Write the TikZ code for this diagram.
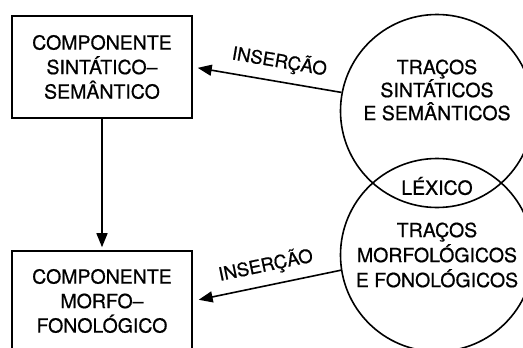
\documentclass[tikz,border=0pt]{standalone}
\usepackage{fontspec}
\setmainfont{TeX Gyre Heros}[BoldFont={TeX Gyre Heros}, BoldFeatures={FakeBold=0.7}]
\usetikzlibrary{arrows.meta}
\begin{document}
\begin{tikzpicture}[x=1pt,y=-1pt, line width=1.6pt,
  box/.style={draw, rectangle, minimum width=180pt, inner sep=0pt, align=center,
    font=\fontsize{19.5}{24.5}\selectfont\bfseries},
  lex/.style={draw, circle, minimum size=193pt, inner sep=0pt},
  ctext/.style={align=center, inner sep=0pt, font=\fontsize{19.5}{23}\selectfont\bfseries},
  arr/.style={-{Triangle[length=14pt,width=11pt]}},
  ins/.style={font=\fontsize{18.5}{20}\selectfont\bfseries, inner sep=0pt}]
\useasboundingbox (0,0) rectangle (523,348);
\clip (0,0) rectangle (523,348);
\node[box, minimum height=102pt] (topbox) at (102,67) {COMPONENTE\\SINTÁTICO–\\SEMÂNTICO};
\node[box, minimum height=100pt] (botbox) at (102,301) {COMPONENTE\\MORFO–\\FONOLÓGICO};
\node[lex] (lexA) at (437,111) {};
\node[lex] (lexB) at (437,255) {};
\node[ctext] (tA) at (437,90) {TRAÇOS\\SINTÁTICOS\\E SEMÂNTICOS};
\node[ctext, font=\fontsize{19.5}{25}\selectfont\bfseries] (tB) at (437,255) {TRAÇOS\\MORFOLÓGICOS\\E FONOLÓGICOS};
\node[ctext] (lexico) at (437,186) {LÉXICO};
\draw[arr, shorten >=3pt] (topbox.south) -- (botbox.north);
\draw[arr, shorten >=5pt] (lexA.169) -- node[ins, sloped, above=9pt, pos=0.44] (insA) {INSERÇÃO} (topbox.east);
\draw[arr, shorten >=6pt] (lexB.189) -- node[ins, sloped, above=9pt, pos=0.48] (insB) {INSERÇÃO} (botbox.east);
\end{tikzpicture}
\end{document}
